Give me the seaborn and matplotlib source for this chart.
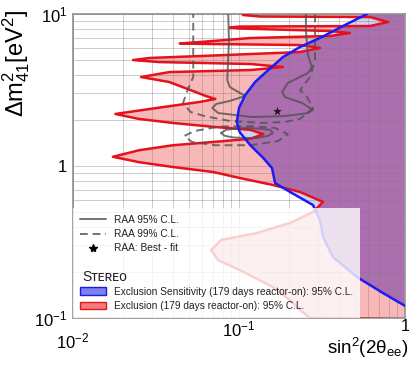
import matplotlib
matplotlib.use("Agg")
import matplotlib.pyplot as plt
import numpy as np
import seaborn as sns
from matplotlib.lines import Line2D
from matplotlib.patches import Patch
from matplotlib.ticker import LogLocator, NullFormatter

# STEREO exclusion contour (179 days reactor-on), 95% C.L. -- outline, right side excluded
excl_sin2 = [1.23, 0.1165, 0.1057, 0.134, 0.615, 0.79, 0.615, 0.101, 0.088, 0.101,
             0.353, 0.466, 0.353, 0.117, 0.058, 0.044, 0.067, 0.233, 0.3075, 0.233,
             0.058, 0.029, 0.023, 0.033, 0.117, 0.184, 0.117, 0.038, 0.0257, 0.038,
             0.051, 0.063, 0.072, 0.058, 0.032, 0.018, 0.025, 0.040, 0.070, 0.117,
             0.140, 0.117, 0.070, 0.040, 0.025, 0.0174, 0.025, 0.040, 0.070, 0.101,
             0.160, 0.233, 0.321, 0.279, 0.203, 0.128, 0.078, 0.068, 0.075, 0.101,
             0.160, 0.203, 0.233, 0.268, 1.23]
excl_dm2 = [10.2, 10.2, 9.85, 9.63, 9.55, 8.86, 8.34, 8.27, 8.15, 8.03,
            7.73, 7.50, 7.17, 6.95, 6.54, 6.40, 6.35, 6.25, 5.98, 5.62,
            5.29, 5.14, 4.98, 4.83, 4.69, 4.48, 4.28, 4.15, 3.85, 3.57,
            3.16, 2.89, 2.76, 2.64, 2.41, 2.20, 2.04, 1.92, 1.81, 1.73,
            1.62, 1.51, 1.44, 1.37, 1.27, 1.15, 1.06, 0.985, 0.913, 0.834,
            0.750, 0.675, 0.580, 0.498, 0.422, 0.362, 0.326, 0.280, 0.240, 0.207,
            0.160, 0.131, 0.113, 0.100, 0.098]

# STEREO exclusion sensitivity (179 days reactor-on), 95% C.L.
sens_sin2 = [0.59, 0.435, 0.316, 0.233, 0.184, 0.150, 0.125, 0.109, 0.100, 0.097,
             0.101, 0.117, 0.140, 0.158, 0.165, 0.203, 0.279, 0.308, 0.321, 0.368,
             0.514, 0.737, 1.03]
sens_dm2 = [10.0, 8.47, 7.06, 6.07, 5.21, 4.28, 3.57, 2.93, 2.41, 1.95,
            1.67, 1.37, 1.13, 0.97, 0.773, 0.675, 0.554, 0.441, 0.341, 0.252,
            0.186, 0.146, 0.118]

# RAA allowed regions
raa95_sin2 = [0.086, 0.087, 0.085, 0.088, 0.099, 0.109, 0.088, 0.073, 0.069, 0.075,
              0.120, 0.189, 0.260, 0.279, 0.240, 0.189, 0.182, 0.197, 0.260, 0.275,
              0.260, 0.253, 0.253]
raa95_dm2 = [10.6, 6.74, 3.68, 3.31, 3.07, 2.89, 2.68, 2.56, 2.41, 2.23,
             2.10, 2.13, 2.23, 2.34, 2.60, 2.84, 3.07, 3.52, 4.09, 4.48,
             5.37, 7.85, 10.6]
raa95_island_sin2 = [0.078, 0.0835, 0.097, 0.112, 0.134, 0.154, 0.160, 0.150, 0.128,
                     0.112, 0.093, 0.082, 0.078]
raa95_island_dm2 = [1.65, 1.73, 1.77, 1.78, 1.76, 1.73, 1.65, 1.58, 1.53,
                    1.53, 1.54, 1.58, 1.65]
raa99_sin2 = [0.053, 0.053, 0.049, 0.046, 0.051, 0.062, 0.088, 0.138, 0.189, 0.233,
              0.279, 0.257, 0.233, 0.268, 0.287, 0.287]
raa99_dm2 = [10.6, 3.85, 3.16, 2.60, 2.27, 2.13, 1.98, 1.92, 1.95, 2.04,
             2.41, 2.84, 3.16, 3.85, 4.98, 10.6]
raa99_island_sin2 = [0.047, 0.054, 0.077, 0.117, 0.165, 0.197, 0.172, 0.117, 0.072, 0.052, 0.047]
raa99_island_dm2 = [1.58, 1.70, 1.82, 1.83, 1.78, 1.62, 1.46, 1.37, 1.37, 1.44, 1.58]
best_fit_sin2 = [0.17]
best_fit_dm2 = [2.3]

x_ticks = [0.01, 0.1, 1]
x_tick_labels = [r"$\mathdefault{10^{-2}}$", r"$\mathdefault{10^{-1}}$", "1"]
y_ticks = [0.1, 1, 10]
y_tick_labels = [r"$\mathdefault{10^{-1}}$", "1", r"$\mathdefault{10^{1}}$"]

sns.set_theme(style="whitegrid")
plt.rcParams["font.family"] = ["Liberation Sans", "DejaVu Sans"]
plt.rcParams["mathtext.fontset"] = "custom"
plt.rcParams["mathtext.rm"] = "Liberation Sans"
plt.rcParams["mathtext.it"] = "Liberation Sans:italic"

fig = plt.figure(figsize=(4.09, 3.70), dpi=100)
ax = fig.add_axes([0.1785, 0.1405, 0.8117, 0.8216])
ax.set_xscale("log")
ax.set_yscale("log")

# filled regions: pink = excluded, light blue = sensitivity only, purple = both
excl_patch = ax.fill(excl_sin2, excl_dm2, color="#f8b8b8", lw=0, zorder=1)[0]
sens_x = sens_sin2 + [2.0, 2.0, 0.65]
sens_y = sens_dm2 + [sens_dm2[-1], 12.0, 12.0]
ax.fill(sens_x, sens_y, color="#cdd2f6", lw=0, zorder=1.1)
overlap = ax.fill(sens_x, sens_y, color="#ad6eb0", lw=0, zorder=1.2)[0]
overlap.set_clip_path(excl_patch)

red = "#e5121b"
blue = "#1b1bf5"
gray = "#505050"
sns.lineplot(x=excl_sin2, y=excl_dm2, sort=False, estimator=None, color=red, lw=1.8, ax=ax, zorder=4)
sns.lineplot(x=sens_sin2, y=sens_dm2, sort=False, estimator=None, color=blue, lw=1.8, ax=ax, zorder=4.2)
for xs, ys in [(raa95_sin2, raa95_dm2), (raa95_island_sin2, raa95_island_dm2)]:
    sns.lineplot(x=xs, y=ys, sort=False, estimator=None, color=gray, alpha=0.8, lw=1.4, ax=ax, zorder=4.1)
for xs, ys in [(raa99_sin2, raa99_dm2), (raa99_island_sin2, raa99_island_dm2)]:
    sns.lineplot(x=xs, y=ys, sort=False, estimator=None, color=gray, alpha=0.8, lw=1.4,
                 ls=(0, (4, 2.5)), ax=ax, zorder=4.1)
sns.scatterplot(x=best_fit_sin2, y=best_fit_dm2, marker="*", s=45, color="#2a0c25",
                linewidth=0, ax=ax, zorder=5)

ax.set_xlim(1e-2, 1)
ax.set_ylim(0.1, 10)
ax.set_xticks(x_ticks, labels=x_tick_labels)
ax.set_yticks(y_ticks, labels=y_tick_labels)
for axis in (ax.xaxis, ax.yaxis):
    axis.set_minor_locator(LogLocator(base=10, subs=np.arange(2, 10)))
    axis.set_minor_formatter(NullFormatter())
ax.set_axisbelow(False)
ax.grid(True, which="both", color="#7d7d7d", lw=0.6, alpha=0.45)
for sp in ax.spines.values():
    sp.set_color("#9a9a9a")
    sp.set_linewidth(1.3)
ax.tick_params(which="both", length=0, labelsize=12, colors="black")
ax.tick_params(axis="x", pad=1)
ax.tick_params(axis="y", pad=4)

ax.set_xlabel(r"sin$^2$(2θ$_{\mathrm{ee}}$)", fontsize=13.5, loc="right", color="black")
ax.xaxis.set_label_coords(1.01, -0.06)
ax.set_ylabel(r"Δm$^2_{41}$[eV$^2$]", fontsize=17, loc="top", color="black")
ax.yaxis.set_label_coords(-0.123, 1.013)

handles = [
    Line2D([], [], color=gray, alpha=0.8, lw=1.4, label="RAA 95% C.L."),
    Line2D([], [], color=gray, alpha=0.8, lw=1.4, ls=(0, (4, 2.5)), label="RAA 99% C.L."),
    Line2D([], [], color="black", marker="*", ls="none", ms=6, label="RAA: Best - fit"),
    Line2D([], [], color="none", label=" "),
    Line2D([], [], color="none", label=" "),
    Patch(facecolor="#7e80f0", edgecolor="#1b1be0", lw=1, label="Exclusion Sensitivity (179 days reactor-on): 95% C.L."),
    Patch(facecolor="#f27b7b", edgecolor="#e01a1c", lw=1, label="Exclusion (179 days reactor-on): 95% C.L."),
]
leg = ax.legend(handles=handles, loc="lower left", bbox_to_anchor=(0, 0), borderaxespad=0,
                fontsize=7.3, frameon=True, framealpha=0.8, facecolor="white", edgecolor="none",
                fancybox=False, handlelength=2.6, handletextpad=0.7, labelspacing=0.43,
                borderpad=0.7)
leg.set_zorder(6)
for t in leg.get_texts():
    t.set_color("#222222")

# "Stereo" heading sits on the empty fifth legend row, at the handle column
fig.canvas.draw()
row_box = leg.get_texts()[4].get_window_extent()
frame_box = leg.get_frame().get_window_extent()
inv = fig.transFigure.inverted()
hx, hy = inv.transform((frame_box.x0 + 9, (row_box.y0 + row_box.y1) / 2))
fig.text(hx, hy, "Sᴛᴇʀᴇᴏ", fontsize=10, va="center", color="#222222", zorder=7)

ax.xaxis.get_major_ticks()[0].set_pad(10)

fig.savefig("out.png", dpi=100)
